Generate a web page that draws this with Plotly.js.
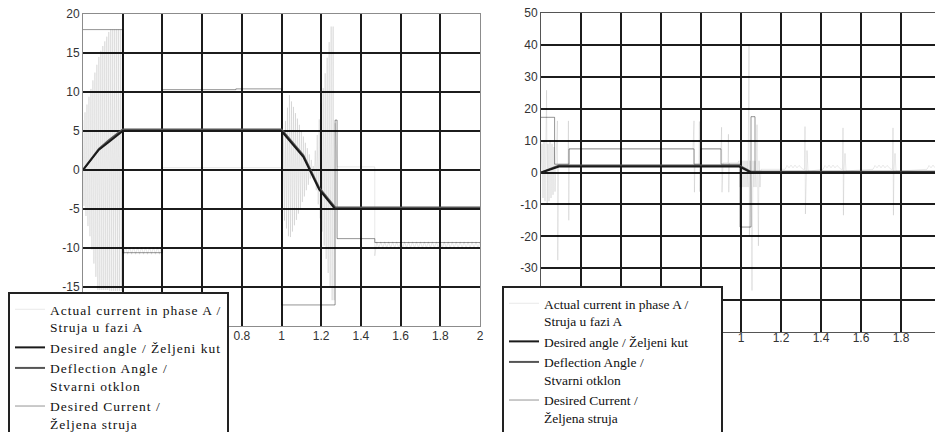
<!DOCTYPE html>
<html>
<head>
<meta charset="utf-8">
<script src="https://cdn.plot.ly/plotly-3.0.1.min.js"></script>
<style>
html,body{margin:0;padding:0;background:#fff;overflow:hidden}
#frame{width:935px;height:432px;overflow:hidden;position:relative}
#chart{width:935px;height:460px}
.legendtext{letter-spacing:1px}
</style>
</head>
<body>
<div id="frame"><div id="chart"></div></div>
<script>
// ---------- legend labels ----------
const labelActual = 'Actual current in phase A /<br>Struja u fazi A';
const labelDesiredAngle = 'Desired angle / Željeni kut';
const labelDeflection = 'Deflection Angle /<br>Stvarni otklon';
const labelDesiredCurrent = 'Desired Current /<br>Željena struja';

// ---------- tick labels ----------
const xTickVals = [0, 0.2, 0.4, 0.6, 0.8, 1, 1.2, 1.4, 1.6, 1.8, 2];
const xTickText = ['0', '0.2', '0.4', '0.6', '0.8', '1', '1.2', '1.4', '1.6', '1.8', '2'];
const leftYTickVals = [-20, -15, -10, -5, 0, 5, 10, 15, 20];
const leftYTickText = ['-20', '-15', '-10', '-5', '0', '5', '10', '15', '20'];
const rightYTickVals = [-50, -40, -30, -20, -10, 0, 10, 20, 30, 40, 50];
const rightYTickText = ['-50', '-40', '-30', '-20', '-10', '0', '10', '20', '30', '40', '50'];

// ---------- left chart ----------
const leftAngleX = [0, 0.08, 0.13, 0.2, 1.0, 1.11, 1.19, 1.27, 2.0];
const leftDesiredAngle = [0, 2.6, 3.6, 5.0, 5.0, 1.7, -2.5, -5.0, -5.0];
const leftDeflection = [0, 2.7, 3.8, 5.2, 5.2, 1.9, -2.3, -4.8, -4.8];

const leftDesCurX = [0, 0.2, 0.2, 0.4, 0.4, 0.77, 0.77, 1.0, 1.0, 1.27, 1.27, 1.28, 1.28, 1.47, 1.47, 2.0];
const leftDesCurY = [18, 18, -10.6, -10.6, 10.3, 10.3, 10.4, 10.4, -17.3, -17.3, 6.4, 6.4, -8.8, -8.8, -9.3, -9.3];

const leftCurX = [
  0.000,0.005,0.010,0.015,0.020,0.025,0.030,0.035,0.040,0.045,0.050,0.055,0.060,0.065,0.070,0.075,0.080,0.085,0.090,0.095,
  0.100,0.105,0.110,0.115,0.120,0.125,0.130,0.135,0.140,0.145,0.150,0.155,0.160,0.165,0.170,0.175,0.180,0.185,0.190,0.195,0.200,
  0.205,0.215,0.225,0.235,0.245,0.255,0.265,0.275,0.285,0.295,0.305,0.315,0.325,0.335,0.345,0.355,0.365,0.375,0.385,0.395,
  0.400,1.000,
  1.000,1.005,1.010,1.015,1.020,1.025,1.030,1.035,1.040,1.045,1.050,1.055,1.060,1.065,1.070,1.075,1.080,1.085,1.090,1.095,
  1.100,1.105,1.110,1.115,1.120,1.125,1.130,1.135,1.140,1.145,1.150,1.155,1.160,1.165,1.170,1.175,1.180,1.185,1.190,1.195,
  1.200,1.205,1.210,1.215,1.220,1.225,1.230,1.235,1.240,1.245,1.250,1.255,1.260,1.265,1.270,
  1.280,1.470,1.470,
  1.48,1.49,1.50,1.51,1.52,1.53,1.54,1.55,1.56,1.57,1.58,1.59,1.60,1.61,1.62,1.63,1.64,1.65,1.66,1.67,1.68,1.69,
  1.70,1.71,1.72,1.73,1.74,1.75,1.76,1.77,1.78,1.79,1.80,1.81,1.82,1.83,1.84,1.85,1.86,1.87,1.88,1.89,
  1.90,1.91,1.92,1.93,1.94,1.95,1.96,1.97,1.98,1.99,2.00
];
const leftCurY = [
  6.4,-4.6,7.4,-5.9,8.4,-7.2,9.4,-8.5,10.4,-10.2,11.5,-12.0,12.5,-13.7,13.5,-15.4,14.5,-15.4,15.3,-15.4,
  15.9,-15.4,16.5,-15.4,17.1,-15.4,17.7,-15.5,18.0,-15.5,18.0,-15.5,18.0,-15.5,18.0,-15.5,18.0,-15.5,18.0,-15.5,17.5,
  -10.8,-9.9,-10.8,-9.9,-10.8,-9.9,-10.8,-9.9,-10.8,-9.9,-10.8,-9.9,-10.8,-9.9,-10.8,-9.9,-10.8,-9.9,-10.8,-9.9,
  0.3,0.3,
  3.0,-5.5,4.6,-6.5,6.3,-7.5,8.0,-8.5,9.6,-8.6,8.8,-7.9,8.1,-7.1,7.3,-6.4,6.6,-5.6,5.8,-4.9,
  5.0,-4.1,4.3,-3.4,3.5,-2.6,2.8,-1.9,2.0,-1.1,1.3,-0.4,0.5,-0.9,2.5,-2.6,4.5,-4.4,6.5,-6.2,
  8.5,-7.9,10.5,-9.7,12.4,-11.4,14.4,-13.2,16.4,-15.0,18.4,-16.7,18.4,-16.7,6.0,
  0.4,0.4,-11.0,
  -9.2,-10.0,-9.2,-10.0,-9.2,-10.0,-9.2,-10.0,-9.2,-10.0,-9.2,-10.0,-9.2,-10.0,-9.2,-10.0,-9.2,-10.0,-9.2,-10.0,-9.2,-10.0,
  -9.2,-10.0,-9.2,-10.0,-9.2,-10.0,-9.2,-10.0,-9.2,-10.0,-9.2,-10.0,-9.2,-10.0,-9.2,-10.0,-9.2,-10.0,-9.2,-10.0,
  -9.2,-10.0,-9.2,-10.0,-9.2,-10.0,-9.2,-10.0,-9.2,-10.0,-9.2
];

// ---------- right chart ----------
const rightAngleX = [0, 0.09, 0.99, 1.05, 2.0];
const rightDesiredAngle = [0, 1.9, 1.9, 0, 0];
const rightDeflection = [0, 2.2, 2.2, 0.2, 0.2];

const rightDesCurX = [0, 0.068, 0.068, 0.14, 0.14, 0.765, 0.765, 0.8, 0.8, 0.9, 0.9, 0.995, 0.995, 1.05, 1.05, 1.07, 1.07, 2.0];
const rightDesCurY = [17.3, 17.3, 2.6, 2.6, 7.4, 7.4, 2.6, 2.6, 7.4, 7.4, 2.6, 2.6, -17.1, -17.1, 17.5, 17.5, 0, 0];

const rightCurX = [
  0,0.005,0.01,0.015,0.02,0.025,0.028,0.031,0.035,0.04,0.045,0.05,0.055,0.06,0.065,0.07,0.075,0.082,0.084,0.088,
  0.135,0.137,0.139,0.142,0.76,0.765,0.767,0.77,0.79,0.792,0.794,0.797,0.9,0.903,0.905,0.91,0.935,0.937,0.939,0.942,
  0.985,0.99,0.995,1.0,1.005,1.01,1.015,1.02,1.025,1.03,1.035,1.04,1.042,1.045,1.05,1.055,1.06,1.065,1.07,1.075,
  1.08,1.087,1.09,1.095,1.1,1.22,1.23,1.24,1.25,1.26,1.27,1.28,1.29,1.31,1.318,1.32,1.322,1.325,1.33,1.335,
  1.35,1.41,1.42,1.43,1.44,1.45,1.46,1.47,1.48,1.5,1.508,1.51,1.512,1.515,1.52,1.525,1.66,1.67,1.68,1.69,
  1.7,1.71,1.72,1.73,1.75,1.758,1.76,1.762,1.765,1.77,1.775,1.8,1.93,1.94,1.95,1.96,1.97
];
const rightCurY = [
  0,9,-8,10,-9,11,25.8,-10,9,-9,10,-8,9,-7,8,-6,4,16.2,-27.5,2.6,
  2.6,16.2,-15,7.4,7.4,16.2,-6.2,2.6,2.6,16,-6,7.4,7.4,14.2,-6.2,3,3,12,-6.2,3,
  3,3.7,-4.6,3.7,-4.6,3.7,-4.6,3.7,-4.6,3.7,-4.6,40,-20,3.7,-4.6,-37,3.7,-4.6,3.7,-4.6,
  15,-23,3.7,-4.6,1,1,2.2,1.5,2.3,1.5,2.3,1.5,2.2,1,1,14.4,-13,1,6.9,0.5,
  0.5,1,2.2,1.5,2.3,1.5,2.3,1.5,2.2,1,1,14,-13.4,0.8,6,0.5,1,2.2,1.5,2.3,
  1.5,2.3,1.5,2.2,1,1,14,-13.4,0.8,6,0.5,0.5,1,2.2,1.5,2.3,1.5
];

// ---------- styles ----------
const H = 460;
const colActual = 'rgba(0,0,0,0.09)';
const colDesCur = 'rgba(0,0,0,0.42)';
const colDefl = '#555555';
const colDesAng = '#1a1a1a';

function traces(xa, ya, leg, curX, curY, dcX, dcY, angX, desAng, defl) {
  return [
    {x: curX, y: curY, xaxis: xa, yaxis: ya, legend: leg, mode: 'lines', name: labelActual,
     line: {color: colActual, width: 1}, legendrank: 1},
    {x: dcX, y: dcY, xaxis: xa, yaxis: ya, legend: leg, mode: 'lines', name: labelDesiredCurrent,
     line: {color: colDesCur, width: 1}, legendrank: 4},
    {x: angX, y: defl, xaxis: xa, yaxis: ya, legend: leg, mode: 'lines', name: labelDeflection,
     line: {color: colDefl, width: 2}, legendrank: 3},
    {x: angX, y: desAng, xaxis: xa, yaxis: ya, legend: leg, mode: 'lines', name: labelDesiredAngle,
     line: {color: colDesAng, width: 2}, legendrank: 2}
  ];
}

const data = [].concat(
  traces('x', 'y', 'legend', leftCurX, leftCurY, leftDesCurX, leftDesCurY, leftAngleX, leftDesiredAngle, leftDeflection),
  traces('x2', 'y2', 'legend2', rightCurX, rightCurY, rightDesCurX, rightDesCurY, rightAngleX, rightDesiredAngle, rightDeflection)
);

function axisStyle(extra) {
  return Object.assign({
    showgrid: true, gridcolor: '#1c1c1c', gridwidth: 2, zeroline: false,
    showline: true, linecolor: '#8c8c8c', linewidth: 1, mirror: true,
    ticks: '', fixedrange: true, tickmode: 'array',
    tickfont: {family: 'Liberation Sans, Arial, sans-serif', size: 12, color: '#333'}
  }, extra);
}

function legendStyle(x, yPx) {
  return {
    x: x, y: 1 - yPx / H, xanchor: 'left', yanchor: 'top', bgcolor: '#ffffff',
    bordercolor: '#222', borderwidth: 2, itemwidth: 30, valign: 'top',
    traceorder: 'normal', tracegroupgap: 0,
    font: {family: 'Liberation Serif, Times New Roman, serif', size: 13.5, color: '#111'}
  };
}

const layout = {
  width: 935, height: H,
  margin: {l: 0, r: 0, t: 0, b: 0, autoexpand: false},
  paper_bgcolor: '#fff', plot_bgcolor: '#fff',
  showlegend: true, hovermode: false,
  xaxis: axisStyle({domain: [83/935, 480/935], range: [0, 2], tickvals: xTickVals, ticktext: xTickText,
                    ticklabelstandoff: -1, anchor: 'y'}),
  yaxis: axisStyle({domain: [1 - 326/H, 1 - 14/H], range: [-20, 20], tickvals: leftYTickVals, ticktext: leftYTickText, anchor: 'x'}),
  xaxis2: axisStyle({domain: [541/935, 1], range: [0, 1.97], tickvals: xTickVals, ticktext: xTickText,
                     ticklabelstandoff: -5, anchor: 'y2', linecolor: '#555'}),
  yaxis2: axisStyle({domain: [1 - 332/H, 1 - 13/H], range: [-50, 50], tickvals: rightYTickVals, ticktext: rightYTickText, anchor: 'x2', linecolor: '#555'}),
  legend: legendStyle(8/935, 292),
  legend2: legendStyle(502/935, 286)
};

Plotly.newPlot('chart', data, layout, {displayModeBar: false, staticPlot: true});
</script>
</body>
</html>
